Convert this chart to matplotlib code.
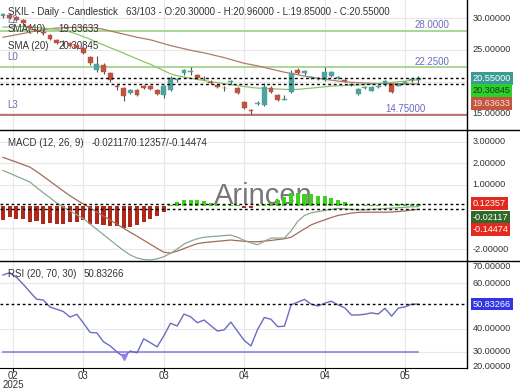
import numpy as np
import matplotlib.pyplot as plt
from matplotlib.lines import Line2D

plt.rcParams['font.family'] = ['Liberation Sans', 'DejaVu Sans']

# daily candles, 63 bars
opens = [30.3, 30.5, 30.2, 29.7, 28.8, 28.1, 27.9, 27.3, 26.6, 26.3, 26.1, 25.8, 25.3,
         23.9, 21.9, 22.6, 21.4, 19.3, 19.0, 18.2, 18.7, 19.3, 19.3, 18.7, 17.9, 18.7,
         20.3, 21.3, 21.6, 21.06, 20.5, 20.0, 19.5, 19.0, 19.9, 19.0, 16.8, 15.45, 16.55,
         16.4, 19.0, 17.9, 17.2, 18.4, 21.85, 21.3, 20.6, 20.4, 20.3, 20.9, 20.6, 20.3,
         19.5, 18.1, 19.0, 18.6, 19.2, 19.5, 19.6, 19.4, 19.7, 20.2, 20.30]
closes = [30.6, 30.1, 29.7, 29.3, 28.5, 28.0, 27.6, 26.8, 26.1, 26.2, 25.6, 25.3, 24.5,
          22.95, 22.8, 21.5, 20.3, 19.1, 17.8, 18.7, 17.9, 19.0, 18.9, 18.1, 19.3, 20.6,
          20.35, 21.85, 21.65, 20.6, 20.4, 19.75, 19.2, 18.95, 20.1, 18.3, 15.9, 15.4, 16.6,
          19.2, 18.4, 17.1, 17.25, 21.4, 21.4, 21.7, 20.65, 20.45, 21.5, 21.5, 20.65, 20.1,
          19.55, 18.9, 19.2, 19.2, 19.25, 20.1, 18.4, 19.6, 19.9, 20.4, 20.55]
highs = [30.9, 30.8, 30.4, 29.9, 29.1, 28.4, 28.2, 27.5, 26.8, 26.6, 26.3, 26.0, 25.5,
         24.1, 24.0, 22.9, 21.6, 19.6, 19.2, 18.9, 18.9, 19.5, 19.5, 18.9, 19.5, 20.9,
         20.6, 22.0, 22.3, 21.2, 20.9, 20.2, 19.7, 19.3, 20.3, 19.2, 17.0, 15.7, 16.9,
         19.8, 19.3, 18.1, 17.9, 21.8, 22.2, 21.9, 20.9, 20.7, 22.3, 21.7, 20.9, 20.4,
         19.7, 19.0, 19.3, 19.3, 19.5, 20.2, 19.7, 19.8, 20.1, 20.6, 20.96]
lows = [30.0, 29.9, 29.5, 29.0, 28.3, 27.7, 27.4, 26.5, 25.9, 25.7, 25.4, 25.1, 24.3,
        22.7, 21.5, 21.2, 20.0, 18.7, 16.9, 18.0, 17.7, 18.8, 18.7, 17.9, 17.5, 18.5,
        20.0, 21.1, 21.0, 20.4, 20.2, 19.6, 19.0, 18.6, 19.7, 18.1, 15.7, 14.9, 16.3,
        16.2, 18.2, 16.9, 17.1, 18.2, 21.2, 21.1, 20.4, 20.2, 20.1, 20.8, 20.4, 19.9,
        19.3, 17.9, 18.9, 18.5, 19.0, 19.4, 18.3, 19.3, 19.6, 20.0, 19.85]

sma20 = [28.6, 28.65, 28.7, 28.7, 28.65, 28.55, 28.45, 28.35, 28.25, 28.05, 27.85, 27.5,
         27.1, 26.7, 26.2, 25.8, 25.35, 24.95, 24.5, 24.05, 23.6, 23.15, 22.75, 22.25,
         21.75, 21.25, 20.95, 20.75, 20.55, 20.35, 20.2, 20.0, 19.85, 19.7, 19.55, 19.4,
         19.25, 19.1, 19.0, 18.95, 18.9, 18.85, 18.8, 18.75, 18.8, 18.9, 19.0, 19.1, 19.2,
         19.3, 19.35, 19.4, 19.45, 19.5, 19.55, 19.6, 19.7, 19.8, 19.9, 20.0, 20.1, 20.2,
         20.30845]
sma40 = [27.0, 27.2, 27.4, 27.6, 27.8, 28.0, 28.2, 28.35, 28.45, 28.5, 28.55, 28.6, 28.6,
         28.55, 28.45, 28.25, 28.0, 27.75, 27.5, 27.25, 27.0, 26.8, 26.6, 26.3, 26.0, 25.7,
         25.45, 25.2, 24.95, 24.75, 24.55, 24.3, 24.05, 23.8, 23.5, 23.2, 22.9, 22.7, 22.5,
         22.25, 22.0, 21.75, 21.5, 21.3, 21.1, 20.9, 20.7, 20.55, 20.4, 20.25, 20.1, 20.0,
         19.9, 19.85, 19.8, 19.75, 19.72, 19.7, 19.68, 19.67, 19.66, 19.65, 19.63633]

macd = [1.67, 1.54, 1.40, 1.27, 1.13, 0.88, 0.63, 0.40, 0.15, -0.04, -0.22, -0.40, -0.58,
        -0.83, -1.08, -1.33, -1.58, -1.83, -2.07, -2.28, -2.42, -2.49, -2.51, -2.46, -2.36,
        -2.20, -2.00, -1.77, -1.63, -1.52, -1.45, -1.42, -1.40, -1.37, -1.35, -1.45, -1.60,
        -1.71, -1.80, -1.64, -1.49, -1.49, -1.49, -1.15, -0.70, -0.43, -0.31, -0.25, -0.20,
        -0.15, -0.10, -0.12, -0.15, -0.18, -0.17, -0.15, -0.13, -0.11, -0.09, -0.07, -0.05,
        -0.03, -0.02117]
signal = [2.28, 2.17, 2.06, 1.94, 1.83, 1.62, 1.40, 1.17, 0.94, 0.71, 0.49, 0.29, 0.10,
          -0.08, -0.27, -0.46, -0.65, -0.84, -1.03, -1.22, -1.40, -1.59, -1.78, -1.97, -2.15,
          -2.19, -2.10, -1.98, -1.86, -1.75, -1.70, -1.67, -1.64, -1.61, -1.58, -1.61, -1.64,
          -1.66, -1.66, -1.63, -1.60, -1.56, -1.52, -1.45, -1.25, -1.06, -0.87, -0.75, -0.64,
          -0.53, -0.43, -0.38, -0.32, -0.29, -0.28, -0.28, -0.28, -0.28, -0.27, -0.25, -0.22,
          -0.18, -0.14474]
hist = [-0.65, -0.5, -0.6, -0.6, -0.74, -0.7, -0.84, -0.8, -0.84, -0.84, -0.74, -0.74, -0.65,
        -0.84, -0.84, -0.88, -0.93, -0.93, -1.0, -0.97, -0.88, -0.74, -0.6, -0.46, -0.28,
        0.05, 0.2, 0.3, 0.3, 0.3, 0.25, 0.15, 0.1, 0.05, 0.05, 0.05, -0.1, -0.1, 0.05, 0.1,
        0.15, 0.3, 0.45, 0.6, 0.6, 0.55, 0.55, 0.5, 0.5, 0.4, 0.3, 0.2, 0.1, 0.05, 0.05, 0.05,
        0.05, 0.05, 0.05, 0.08, 0.08, 0.1, 0.12357]

rsi = [63.5, 64.5, 62.5, 59.5, 56.2, 53.0, 52.6, 49.6, 48.6, 47.6, 45.2, 46.4, 42.6, 38.5,
       38.3, 34.4, 32.6, 30.0, 27.9, 30.4, 29.6, 35.7, 34.0, 32.2, 37.0, 42.5, 41.3, 46.5,
       45.3, 42.7, 43.9, 41.5, 39.1, 39.6, 43.0, 39.0, 35.0, 32.6, 39.8, 45.0, 44.2, 41.0,
       41.2, 50.5, 51.7, 52.9, 50.8, 50.0, 51.2, 52.1, 50.5, 49.2, 46.1, 46.1, 46.4, 47.0,
       46.5, 49.0, 45.6, 49.1, 49.6, 50.8, 50.83266]

levels = [28.0, 22.25, 14.75]
level_names = ['L2', 'L0', 'L3']
level_texts = ['28.0000', '22.2500', '14.75000']
level_colors = ['#93cc78', '#93cc78', '#a85050']
level_text_x = [64, 64, 60]

tick_pos = [1.5, 12, 24, 36, 48, 60]
tick_lab = ['02\n2025', '03', '03', '04', '04', '05']

UP = '#4fa39e'
DOWN = '#c0533f'
GRID = '#e8e8e8'
LBL = '#333333'
FS = 6.6
TF = 7.0

x = np.arange(len(closes))
W = 467 / 520

fig = plt.figure(figsize=(5.2, 3.9), dpi=100)
ax1 = fig.add_axes([0, 260 / 390, W, 130 / 390])
ax2 = fig.add_axes([0, 129 / 390, W, 131 / 390])
ax3 = fig.add_axes([0, 22 / 390, W, 107 / 390])

for ax in (ax1, ax2, ax3):
    ax.set_xlim(-0.45, 69.25)
    for s in ('left', 'top'):
        ax.spines[s].set_visible(False)
    ax.spines['right'].set_linewidth(1)
    for t in tick_pos:
        ax.axvline(t, color=GRID, lw=0.8, zorder=0)
    ax.set_yticks([])
    ax.tick_params(axis='x', length=0, labelbottom=False)
ax1.spines['bottom'].set_visible(False)
ax2.spines['bottom'].set_visible(False)


def rlabel(ax, y, s, fc=None, tc=LBL):
    kw = {}
    if fc is not None:
        kw['bbox'] = dict(boxstyle='square,pad=0.2', fc=fc, ec='none')
    ax.text(1.012, y, s, transform=ax.get_yaxis_transform(), ha='left', va='center',
            fontsize=FS, color=tc, clip_on=False, **kw)


# ---- price panel
ax1.set_ylim(12.4, 32.87)
for g in (15, 20, 25, 30):
    ax1.axhline(g, color=GRID, lw=0.8, zorder=0)
for lv, nm, tx, c, lx in zip(levels, level_names, level_texts, level_colors, level_text_x):
    ax1.axhline(lv, color=c, lw=1.1, zorder=1)
    ax1.annotate(tx, (lx, lv), xytext=(0, 0.5), textcoords='offset points', ha='center',
                 va='bottom', fontsize=7, color='#6b6bbf')
    ax1.annotate(nm, (0.015, lv), xycoords=('axes fraction', 'data'), xytext=(0, 4),
                 textcoords='offset points', ha='left', va='bottom', fontsize=7,
                 color='#7070b0', zorder=6)
ax1.plot(x, sma40, color='#b07a6a', lw=0.9, zorder=2)
ax1.plot(x, sma20, color='#8cc46e', lw=0.9, zorder=2)

o = np.array(opens)
c = np.array(closes)
cols = [UP if cc >= oo else DOWN for oo, cc in zip(o, c)]
ax1.vlines(x, lows, highs, color='#555555', lw=0.8, zorder=3)
body = np.maximum(np.abs(c - o), 0.08)
ax1.bar(x, body, bottom=np.minimum(o, c), width=0.72, color=cols, edgecolor=cols,
        lw=0.3, zorder=4)
ax1.axhline(closes[-1], color='black', ls=(0, (2, 2)), lw=1, zorder=5)
ax1.axhline(sma40[-1], color='black', ls=(0, (2, 2)), lw=1, zorder=5)

ax1.text(0.017, 0.91, 'SKIL - Daily - Candlestick', transform=ax1.transAxes,
         fontsize=TF, color=LBL, va='center')
ax1.text(0.27, 0.91, '63/103 - O:%.5f - H:%.5f - L:%.5f - C:%.5f'
         % (opens[-1], highs[-1], lows[-1], closes[-1]),
         transform=ax1.transAxes, fontsize=TF, color=LBL, va='center')
ax1.text(0.017, 0.777, 'SMA(40)', transform=ax1.transAxes, fontsize=TF, color=LBL,
         va='center')
ax1.text(0.125, 0.777, '%.5f' % sma40[-1], transform=ax1.transAxes, fontsize=TF,
         color=LBL, va='center')
ax1.text(0.017, 0.646, 'SMA (20)', transform=ax1.transAxes, fontsize=TF, color=LBL,
         va='center')
ax1.text(0.125, 0.646, '%.5f' % sma20[-1], transform=ax1.transAxes, fontsize=TF,
         color=LBL, va='center')

for v in (30, 25, 15):
    rlabel(ax1, v, '%.5f' % v)
rlabel(ax1, closes[-1], '%.5f' % closes[-1], fc='#3a9c94', tc='white')
rlabel(ax1, 18.6, '%.5f' % sma20[-1], fc='#2bd02b', tc='#1a3a1a')
rlabel(ax1, 16.6, '%.5f' % sma40[-1], fc='#c4543e', tc='#f4e0d8')

# ---- MACD panel
ax2.set_ylim(-2.56, 3.56)
for g in (3, 2, 1, -1, -2):
    ax2.axhline(g, color=GRID, lw=0.8, zorder=0)
ax2.text(0.563, 0.5, 'Arincen', transform=ax2.transAxes, fontsize=21, color='#777777',
         ha='center', va='center', zorder=1)
hcols = ['#3fcf1f' if h >= 0 else '#b0281a' for h in hist]
ax2.bar(x, hist, width=0.62, color=hcols, zorder=2)
ax2.plot(x, signal, color='#a36a58', lw=0.9, zorder=3)
ax2.plot(x, macd, color='#8aa892', lw=0.9, zorder=3)
ax2.axhline(hist[-1], color='black', ls=(0, (2, 2)), lw=1, zorder=4)
ax2.axhline(signal[-1], color='black', ls=(0, (2, 2)), lw=1, zorder=4)
ax2.text(0.017, 0.90, 'MACD (12, 26, 9)', transform=ax2.transAxes, fontsize=TF,
         color=LBL, va='center')
ax2.text(0.195, 0.90, '%.5f/%.5f/%.5f' % (macd[-1], hist[-1], signal[-1]),
         transform=ax2.transAxes, fontsize=TF, color=LBL, va='center')
for v in (3, 2, 1, -2):
    rlabel(ax2, v, '%.5f' % v)
rlabel(ax2, 0.12357, '%.5f' % hist[-1], fc='#e02a1e', tc='white')
rlabel(ax2, -0.52, '%.5f' % macd[-1], fc='#2f6a2a', tc='white')
rlabel(ax2, -1.08, '%.5f' % signal[-1], fc='#e42a1e', tc='white')

# ---- RSI panel
ax3.set_ylim(23.0, 69.6)
for g in (60, 40, 30):
    ax3.axhline(g, color=GRID, lw=0.8, zorder=0)
ax3.plot([x[0], x[-1]], [30, 30], color='#8c84dc', lw=1.2, zorder=2)
ax3.plot(x, rsi, color='#6c6cc0', lw=1.0, zorder=3)
imin = int(np.argmin(rsi))
ax3.plot([x[imin]], [rsi[imin]], marker='v', ms=5, color='#9080e8', zorder=4)
ax3.axhline(rsi[-1], color='black', ls=(0, (2, 2)), lw=1, zorder=4)
ax3.text(0.017, 0.878, 'RSI (20, 70, 30)', transform=ax3.transAxes, fontsize=TF,
         color=LBL, va='center')
ax3.text(0.178, 0.878, '%.5f' % rsi[-1], transform=ax3.transAxes, fontsize=TF,
         color=LBL, va='center')
for v in (60, 40, 30):
    rlabel(ax3, v, '%.5f' % v)
rlabel(ax3, 67.4, '70.00000')
rlabel(ax3, 23.8, '20.00000')
rlabel(ax3, rsi[-1], '%.5f' % rsi[-1], fc='#3434e0', tc='white')

ax3.set_xticks(tick_pos)
ax3.set_xticklabels(tick_lab, fontsize=7, color=LBL, linespacing=0.8)
ax3.tick_params(axis='x', length=2, labelbottom=True, pad=0.5)

for yy in (130, 261):
    fig.add_artist(Line2D([0, 1], [1 - yy / 390, 1 - yy / 390], color='black', lw=1))

fig.savefig('out.png', dpi=100)
